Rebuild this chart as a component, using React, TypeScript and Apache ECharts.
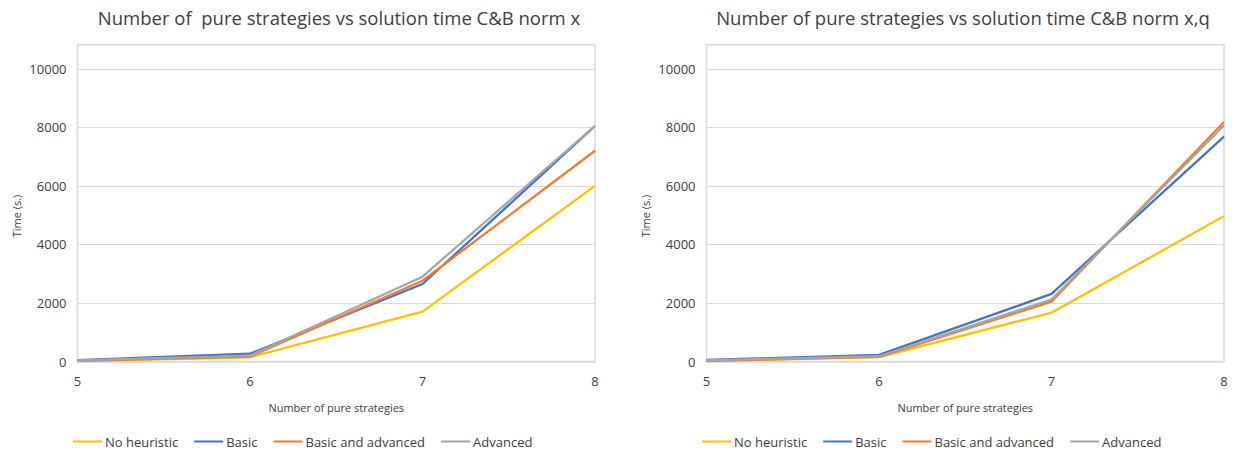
import React, { useEffect, useRef } from "react";
import * as echarts from "echarts";

// Number of pure strategies on the x axis
const strategies = ["5", "6", "7", "8"];

// Solution times (s.) for the C&B norm x formulation
const normXNoHeuristic = [10, 145, 1705, 6005];
const normXBasic = [50, 265, 2650, 8050];
const normXBasicAdvanced = [20, 170, 2760, 7205];
const normXAdvanced = [40, 200, 2900, 8055];

// Solution times (s.) for the C&B norm x,q formulation
const normXQNoHeuristic = [15, 150, 1670, 4970];
const normXQBasic = [55, 225, 2310, 7690];
const normXQBasicAdvanced = [25, 155, 2045, 8190];
const normXQAdvanced = [40, 180, 2120, 8070];

const seriesNames = ["No heuristic", "Basic", "Basic and advanced", "Advanced"];
const seriesColors = ["#FFC000", "#4472C4", "#ED7D31", "#A5A5A5"];

const titles = [
  "Number of  pure strategies vs solution time C&B norm x",
  "Number of pure strategies vs solution time C&B norm x,q",
];

const yTickStep = 2000;
const yTop = 10830;

const FONT = "'Open Sans', 'Noto Sans', sans-serif";
const TEXT = "#404040";
const GRID_LINE = "#D9D9D9";

export default function App() {
  const ref = useRef<HTMLDivElement>(null);

  useEffect(() => {
    if (!ref.current) return;
    const chart = echarts.init(ref.current, undefined, { renderer: "svg" });

    const grids = [
      { left: 77.5, top: 44.7, width: 517.5, height: 316.8 },
      { left: 706.5, top: 44.7, width: 517.5, height: 316.8 },
    ];
    const titleCenters = [334, 958];

    const panels = [
      [normXNoHeuristic, normXBasic, normXBasicAdvanced, normXAdvanced],
      [normXQNoHeuristic, normXQBasic, normXQBasicAdvanced, normXQAdvanced],
    ];

    const series: any[] = [];
    panels.forEach((sets, gi) => {
      sets.forEach((vals, si) => {
        series.push({
          type: "line",
          name: seriesNames[si],
          xAxisIndex: gi,
          yAxisIndex: gi,
          data: vals,
          symbol: "none",
          lineStyle: { color: seriesColors[si], width: 2.25 },
          itemStyle: { color: seriesColors[si] },
          z: 2 + si,
        });
      });
    });

    chart.setOption({
      animation: false,
      textStyle: { fontFamily: FONT },
      title: grids.map((g, i) => ({
        text: titles[i],
        left: titleCenters[i],
        top: 3,
        textAlign: "center",
        textStyle: { color: TEXT, fontSize: 18.5, fontWeight: "normal", fontFamily: FONT },
      })),
      legend: grids.map((g, i) => ({
        data: seriesNames,
        left: i === 0 ? 68 : 697,
        top: 430,
        itemWidth: 29,
        itemHeight: 2,
        itemGap: 16,
        icon: "rect",
        textStyle: { color: TEXT, fontSize: 13, fontFamily: FONT, padding: [0, 0, 0, -2] },
      })),
      grid: grids.map((g) => ({
        ...g,
        show: true,
        borderColor: GRID_LINE,
        borderWidth: 1.5,
        backgroundColor: "transparent",
      })),
      xAxis: grids.map((g, i) => ({
        type: "category",
        gridIndex: i,
        data: strategies,
        boundaryGap: false,
        name: "Number of pure strategies",
        nameLocation: "middle",
        nameGap: 40,
        nameTextStyle: { color: TEXT, fontSize: 11, fontFamily: FONT },
        axisLine: { show: true, lineStyle: { color: GRID_LINE, width: 1.5 } },
        axisTick: { show: false },
        axisLabel: { color: TEXT, fontSize: 13, margin: 13, fontFamily: FONT },
        splitLine: { show: false },
      })),
      yAxis: grids.map((g, i) => ({
        type: "value",
        gridIndex: i,
        min: 0,
        max: yTop,
        interval: yTickStep,
        axisLine: { show: false },
        axisTick: { show: false },
        axisLabel: {
          color: TEXT,
          fontSize: 13,
          margin: 11,
          fontFamily: FONT,
          formatter: (v: number) => (v % yTickStep === 0 ? String(v) : ""),
        },
        splitLine: { show: true, lineStyle: { color: GRID_LINE, width: 1 } },
      })),
      graphic: grids.map((g, i) => ({
        type: "text",
        x: i === 0 ? 16 : 645,
        y: 216,
        rotation: Math.PI / 2,
        style: {
          text: "Time (s.)",
          fill: TEXT,
          fontSize: 11,
          fontFamily: FONT,
          textAlign: "center",
          textVerticalAlign: "middle",
        },
      })),
      series,
    });

    return () => chart.dispose();
  }, []);

  return (
    <div
      ref={ref}
      style={{ position: "fixed", left: 0, top: 0, width: 1234, height: 449, background: "#fff" }}
    />
  );
}
